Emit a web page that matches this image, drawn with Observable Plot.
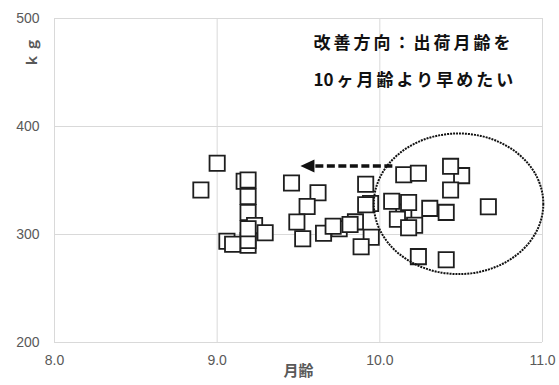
<!DOCTYPE html>
<html>
<head>
<meta charset="utf-8">
<script src="https://cdn.jsdelivr.net/npm/d3@7"></script>
<script src="https://cdn.jsdelivr.net/npm/@observablehq/plot@0.6"></script>
<style>
  html, body { margin: 0; padding: 0; background: #fff; }
  #chart svg { display: block; }
</style>
</head>
<body>
<div id="chart"></div>
<script>
// ---- data ----
const months = [
  9.166, 9.19, 9.19, 9.19, 9.19, 9.19, 9.23, 9.19, 9.295, 9.06, 9.095, 9.0, 8.90,
  9.457, 9.62, 9.553, 9.49, 9.526, 9.654, 9.75, 9.713, 9.85, 9.817, 9.913, 9.943, 9.913, 9.947, 9.885,
  10.147, 10.237, 10.503, 10.435, 10.435, 10.667, 10.147, 10.214, 10.073, 10.177, 10.108, 10.177, 10.307, 10.408, 10.237, 10.408
];
const weights = [
  349.3, 350.5, 335.2, 320.4, 290.1, 294.4, 308.3, 305.3, 301.6, 293.8, 291.0, 365.9, 341.2,
  347.7, 338.7, 325.9, 311.6, 296.1, 301.2, 305.3, 307.7, 311.7, 309.3, 346.6, 328.7, 327.5, 297.4, 288.6,
  355.4, 356.8, 354.5, 363.1, 341.2, 325.7, 320.7, 308.6, 330.7, 329.6, 314.1, 306.3, 324.2, 320.5, 279.5, 276.7
];
const xTicks = [8, 9, 10, 11];
const yTicks = [200, 300, 400, 500];
const xTitle = "月齢";
const yTitle = "ｋｇ";
const noteLines = ["改善方向：出荷月齢を", "10ヶ月齢より早めたい"];
// annotation geometry (data units)
const noteX = 9.592;
const noteY = [477.1, 442.6];
const arrowFrom = [10.08, 363];
const arrowTo = [9.515, 363];
const ellipseCenter = [10.487, 328];
const ellipseRadii = [0.521, 65.1];

const points = months.map((m, i) => ({month: m, kg: weights[i]}));
const notes = noteLines.map((t, i) => ({t, x: noteX, y: noteY[i]}));

const chart = Plot.plot({
  width: 559,
  height: 385,
  marginLeft: 54,
  marginRight: 17,
  marginTop: 18,
  marginBottom: 43,
  x: {domain: [8, 11], axis: null},
  y: {domain: [200, 500], axis: null},
  style: {fontFamily: "'Liberation Sans', sans-serif", background: "white"},
  marks: [
    Plot.ruleX(xTicks, {x: d => d, stroke: "#d9d9d9", strokeWidth: 1}),
    Plot.ruleY(yTicks, {y: d => d, stroke: "#d9d9d9", strokeWidth: 1}),
    Plot.dot(points, {x: "month", y: "kg", symbol: "square", r: 8.6, fill: "white", stroke: "#1e1e1e", strokeWidth: 1.8}),
    Plot.text(xTicks, {x: d => d, frameAnchor: "bottom", dy: 22, text: d => d.toFixed(1), fontSize: 14, fill: "#595959"}),
    Plot.text(yTicks, {y: d => d, frameAnchor: "left", dx: -15, textAnchor: "end", text: d => String(d), fontSize: 14, fill: "#595959"}),
    Plot.text([xTitle], {frameAnchor: "bottom", dy: 33, text: d => d, fontSize: 15, fontWeight: "bold", fill: "#595959", fontFamily: "'Noto Sans CJK JP', sans-serif"}),
    Plot.text([yTitle], {frameAnchor: "top-left", dx: -27, dy: 49, rotate: -90, text: d => d, fontSize: 14, fontWeight: "bold", fill: "#595959", fontFamily: "'Noto Sans CJK JP', sans-serif"}),
    Plot.text(notes, {x: "x", y: "y", text: "t", textAnchor: "start", fontSize: 17, fontWeight: "bold", fill: "#111", fontFamily: "'Noto Sans CJK JP', sans-serif"})
  ]
});

document.getElementById("chart").appendChild(chart);

const svg = d3.select(chart);
// letter spacing for the note lines and the y title
svg.selectAll("text").each(function() {
  const sel = d3.select(this);
  const t = sel.text();
  const idx = noteLines.indexOf(t);
  if (idx >= 0) {
    sel.style("letter-spacing", "3px");
    if (t.startsWith("10")) {
      sel.text(null);
      sel.append("tspan").style("letter-spacing", "0px").text(t.slice(0, 1));
      sel.append("tspan").text(t.slice(1));
    }
  }
  if (t === yTitle) sel.style("letter-spacing", "2px");
});

// annotations via the plot's own scales
const sx = chart.scale("x");
const sy = chart.scale("y");
const X = v => sx.apply(v);
const Y = v => sy.apply(v);

const cx = X(ellipseCenter[0]), cy = Y(ellipseCenter[1]);
const rx = X(ellipseCenter[0] + ellipseRadii[0]) - cx;
const ry = cy - Y(ellipseCenter[1] + ellipseRadii[1]);
svg.append("ellipse")
  .attr("cx", cx).attr("cy", cy).attr("rx", rx).attr("ry", ry)
  .attr("fill", "none").attr("stroke", "#111").attr("stroke-width", 2)
  .attr("stroke-dasharray", "2,1");

const x0 = X(arrowFrom[0]), y0 = Y(arrowFrom[1]);
const x1 = X(arrowTo[0]), y1 = Y(arrowTo[1]);
const headLen = 14, headHalf = 6.5;
svg.append("line")
  .attr("x1", x0).attr("y1", y0).attr("x2", x1 + headLen - 1).attr("y2", y1)
  .attr("stroke", "#111").attr("stroke-width", 3.5).attr("stroke-dasharray", "8,3.5");
svg.append("polygon")
  .attr("points", `${x1},${y1} ${x1 + headLen},${y1 - headHalf} ${x1 + headLen},${y1 + headHalf}`)
  .attr("fill", "#111");
</script>
</body>
</html>
